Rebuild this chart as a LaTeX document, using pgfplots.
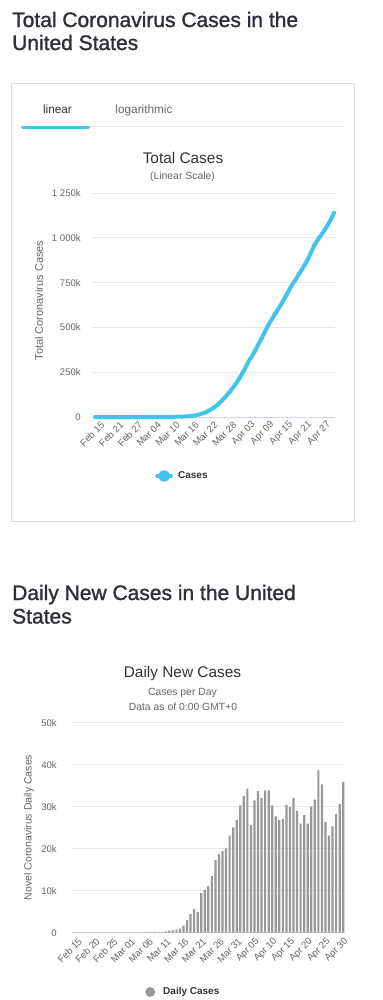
\documentclass[border=0pt]{standalone}
\usepackage{fontspec}
\setmainfont{Liberation Sans}
\newfontfamily\headfont[FakeBold=1.2]{Liberation Sans}
\usepackage{pgfplots}
\pgfplotsset{compat=1.18}
\definecolor{headc}{HTML}{2E2E36}
\definecolor{titlec}{HTML}{333333}
\definecolor{subc}{HTML}{666666}
\definecolor{tickc}{HTML}{666666}
\definecolor{gridc}{HTML}{E6E6E6}
\definecolor{axisc}{HTML}{CCD6EB}
\definecolor{linec}{HTML}{40C4EE}
\definecolor{barc}{HTML}{999999}
\definecolor{cardc}{HTML}{DDDDDD}
\newcommand\fs[1]{\fontsize{#1bp}{#1bp}\selectfont}
\begin{document}
\begin{tikzpicture}[x=1bp,y=1bp]
\fill[white] (0,0) rectangle (382,-1000);
% headings
\node[anchor=base west, inner sep=0pt, text=headc, font=\headfont\fs{21}] at (12,-27) {Total Coronavirus Cases in the};
\node[anchor=base west, inner sep=0pt, text=headc, font=\headfont\fs{21}] at (12,-50) {United States};
\node[anchor=base west, inner sep=0pt, text=headc, font=\headfont\fs{21}] at (12,-600) {Daily New Cases in the United};
\node[anchor=base west, inner sep=0pt, text=headc, font=\headfont\fs{21}] at (12,-623.5) {States};
% card
\draw[cardc, line width=1bp] (11.7,-83.3) rectangle (354,-521.7);
\node[anchor=base, inner sep=0pt, text=titlec, font=\fs{11.8}] at (57.5,-113) {linear};
\node[anchor=base, inner sep=0pt, text=subc, font=\fs{11.8}] at (144,-113) {logarithmic};
\draw[gridc, line width=1bp] (21,-126) -- (343,-126);
\draw[linec, line width=3bp, line cap=round] (22.5,-127.8) -- (88.5,-127.8);
% titles
\node[anchor=base, inner sep=0pt, text=titlec, font=\fs{15.4}] at (183,-163) {Total Cases};
\node[anchor=base, inner sep=0pt, text=subc, font=\fs{10.4}] at (182.5,-179.5) {(Linear Scale)};
\node[anchor=base, inner sep=0pt, text=titlec, font=\fs{15.4}] at (182.5,-677) {Daily New Cases};
\node[anchor=base, inner sep=0pt, text=subc, font=\fs{10.4}] at (182.5,-695.5) {Cases per Day};
\node[anchor=base, inner sep=0pt, text=subc, font=\fs{10.4}] at (183,-710) {Data as of 0:00 GMT+0};

\begin{axis}[
  at={(92bp,-417bp)}, anchor=south west,
  scale only axis, width=243bp, height=224bp,
  xmin=-1, xmax=76.3, ymin=0, ymax=1250,
  clip=false,
  axis x line*=bottom, axis y line*=left,
  x axis line style={axisc, line width=1bp, -},
  y axis line style={draw=none},
  ymajorgrids, grid style={gridc, line width=0.8bp},
  major tick length=0,
  xtick={0,6,...,72},
  xticklabels={Feb 15,Feb 21,Feb 27,Mar 04,Mar 10,Mar 16,Mar 22,Mar 28,Apr 03,Apr 09,Apr 15,Apr 21,Apr 27},
  ytick={0,250,500,750,1000,1250},
  yticklabels={0,250k,500k,750k,1 000k,1 250k},
  ticklabel style={font=\fs{9.6}, text=tickc},
  xticklabel style={rotate=45, anchor=east, inner sep=0pt, xshift=1bp, yshift=-10bp},
  yticklabel style={anchor=east, inner sep=0pt, xshift=-11bp},
  ylabel={Total Coronavirus Cases},
  every axis y label/.style={at={(axis description cs:-0.218,0.52)}, rotate=90, anchor=center, font=\fs{11}, text=tickc},
  legend style={at={(0.3724,-0.2634)}, anchor=center, draw=none, fill=none, font=\bfseries\fs{10}, text=titlec, inner sep=0pt},
  legend image code/.code={\draw[linec, line width=3.5bp, line cap=round] (0bp,0bp) -- (14bp,0bp); \fill[linec] (7bp,0bp) circle (3.8bp); \path (17bp,0bp);},
]
\addplot[linec, line width=4bp, line join=round, line cap=round] coordinates {
(0,0.015)(1,0.015)(2,0.015)(3,0.015)(4,0.015)(5,0.015)(6,0.035)(7,0.035)(8,0.035)(9,0.053)
(10,0.053)(11,0.057)(12,0.060)(13,0.060)(14,0.068)(15,0.075)(16,0.100)(17,0.124)(18,0.158)(19,0.221)
(20,0.319)(21,0.435)(22,0.541)(23,0.704)(24,0.994)(25,1.301)(26,1.63)(27,2.18)(28,2.73)(29,3.49)
(30,4.51)(31,6.25)(32,9.2)(33,13.6)(34,19.2)(35,24.1)(36,33.5)(37,43.7)(38,54.8)(39,68.3)
(40,85.6)(41,104.3)(42,123.7)(43,143.8)(44,166.9)(45,192.0)(46,218.8)(47,249.1)(48,281.7)(49,316.0)
(50,341.7)(51,373.8)(52,408.0)(53,440.7)(54,475.1)(55,509.5)(56,540.3)(57,568.5)(58,595.9)(59,623.5)
(60,654.5)(61,684.9)(62,717.6)(63,747.1)(64,773.6)(65,802.2)(66,828.7)(67,859.3)(68,891.6)(69,931.0)
(70,966.8)(71,993.7)(72,1017.3)(73,1043.1)(74,1071.9)(75,1103.1)(76,1139.6)
};
\addlegendentry{Cases}
\end{axis}

\begin{axis}[
  at={(72bp,-932.7bp)}, anchor=south west,
  scale only axis, width=273bp, height=210bp,
  xmin=-0.4, xmax=76.5, ymin=0, ymax=50,
  ybar, bar width=2.2bp,
  axis x line*=bottom, axis y line*=left,
  x axis line style={axisc, line width=1bp, -},
  y axis line style={draw=none},
  ymajorgrids, grid style={gridc, line width=0.8bp},
  major tick length=0,
  xtick={0,5,...,75},
  xticklabels={Feb 15,Feb 20,Feb 25,Mar 01,Mar 06,Mar 11,Mar 16,Mar 21,Mar 26,Mar 31,Apr 05,Apr 10,Apr 15,Apr 20,Apr 25,Apr 30},
  ytick={0,10,20,30,40,50},
  yticklabels={0,10k,20k,30k,40k,50k},
  ticklabel style={font=\fs{9.6}, text=tickc},
  xticklabel style={rotate=45, anchor=east, inner sep=0pt, xshift=0bp, yshift=-10bp},
  yticklabel style={anchor=east, inner sep=0pt, xshift=-15bp},
  ylabel={Novel Coronavirus Daily Cases},
  every axis y label/.style={at={(axis description cs:-0.1575,0.501)}, rotate=90, anchor=center, font=\fs{10.5}, text=tickc},
  legend style={at={(0.4077,-0.2824)}, anchor=center, draw=none, fill=none, font=\bfseries\fs{10}, text=titlec, inner sep=0pt},
  legend image code/.code={\fill[barc] (5bp,0bp) circle (5bp); \path (16bp,0bp);},
]
\addplot[fill=barc, draw=none] coordinates {
(0,0)(1,0)(2,0)(3,0)(4,0)(5,0)(6,0.02)(7,0)(8,0)(9,0.018)
(10,0)(11,0.004)(12,0.003)(13,0)(14,0.008)(15,0.007)(16,0.025)(17,0.024)(18,0.034)(19,0.063)
(20,0.098)(21,0.116)(22,0.106)(23,0.163)(24,0.15)(25,0.18)(26,0.3)(27,0.5)(28,0.55)(29,0.75)
(30,1.0)(31,1.7)(32,3.0)(33,4.4)(34,5.6)(35,4.9)(36,9.4)(37,10.2)(38,11.1)(39,13.5)
(40,17.3)(41,18.7)(42,19.4)(43,20.1)(44,23.1)(45,25.1)(46,26.8)(47,30.3)(48,32.6)(49,34.3)
(50,25.6)(51,31.5)(52,33.7)(53,32.1)(54,33.9)(55,33.9)(56,30.3)(57,27.7)(58,26.8)(59,27.1)
(60,30.5)(61,29.9)(62,32.1)(63,29.0)(64,26.0)(65,28.0)(66,26.0)(67,30.0)(68,31.7)(69,38.8)
(70,35.3)(71,26.4)(72,23.1)(73,25.3)(74,28.3)(75,30.7)(76,35.9)
};
\addlegendentry{Daily Cases}
\end{axis}
\end{tikzpicture}
\end{document}
